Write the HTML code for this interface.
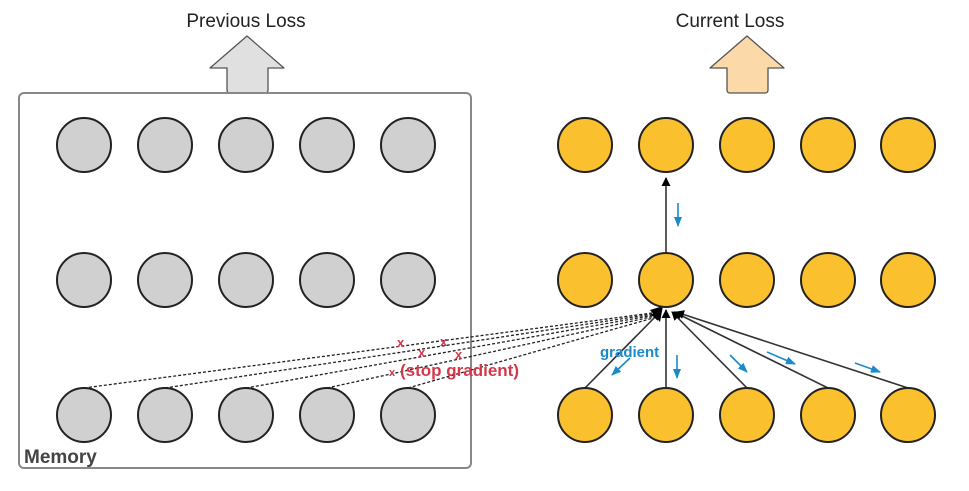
<!DOCTYPE html>
<html><head><style>body{margin:0;background:#fff;}svg{display:block}</style></head><body>
<svg width="969" height="491" viewBox="0 0 969 491" xmlns="http://www.w3.org/2000/svg" font-family="Liberation Sans, sans-serif">
<defs>
<marker id="ah" markerWidth="9" markerHeight="9" refX="8" refY="4.5" orient="auto" markerUnits="userSpaceOnUse"><path d="M0,0 L9,4.5 L0,9 z" fill="#000"/></marker>
<marker id="ab" markerWidth="10" markerHeight="8" refX="9" refY="4" orient="auto" markerUnits="userSpaceOnUse"><path d="M0,0 L10,4 L0,8 z" fill="#1a8bc8"/></marker>
</defs>
<text x="246" y="27" font-size="19" text-anchor="middle" fill="#222">Previous Loss</text>
<text x="730" y="27" font-size="19" text-anchor="middle" fill="#222">Current Loss</text>
<path d="M247,36 L284,68 L268,68 L268,90 Q268,93 265,93 L230,93 Q227,93 227,90 L227,68 L210,68 Z" fill="#e0e0e0" stroke="#555" stroke-width="1.3" stroke-linejoin="round"/>
<path d="M747,36 L784,68 L768,68 L768,90 Q768,93 765,93 L730,93 Q727,93 727,90 L727,68 L710,68 Z" fill="#fbd9a8" stroke="#555" stroke-width="1.3" stroke-linejoin="round"/>
<rect x="19" y="93" width="452" height="375" rx="5" fill="none" stroke="#888" stroke-width="2"/>
<text x="24" y="463" font-size="19" font-weight="bold" fill="#444">Memory</text>
<g stroke="#222" stroke-width="1.3" stroke-dasharray="3,2" fill="none">
<line x1="84" y1="388" x2="660" y2="312"/><line x1="165" y1="388" x2="660" y2="313"/><line x1="246" y1="388" x2="660" y2="314"/><line x1="327" y1="388" x2="660" y2="315"/><line x1="408" y1="388" x2="660" y2="316"/>
</g>
<path d="M650,310 L663,306 L660,322 Z" fill="#000"/>
<g fill="#d0d0d0" stroke="#222" stroke-width="2">
<circle cx="84" cy="145" r="27"/><circle cx="165" cy="145" r="27"/><circle cx="246" cy="145" r="27"/><circle cx="327" cy="145" r="27"/><circle cx="408" cy="145" r="27"/>
<circle cx="84" cy="280" r="27"/><circle cx="165" cy="280" r="27"/><circle cx="246" cy="280" r="27"/><circle cx="327" cy="280" r="27"/><circle cx="408" cy="280" r="27"/>
<circle cx="84" cy="415" r="27"/><circle cx="165" cy="415" r="27"/><circle cx="246" cy="415" r="27"/><circle cx="327" cy="415" r="27"/><circle cx="408" cy="415" r="27"/>
</g>
<g stroke="#333" stroke-width="1.6" marker-end="url(#ah)">
<line x1="666" y1="253" x2="666" y2="178"/>
<line x1="585" y1="388" x2="660" y2="312"/>
<line x1="666" y1="388" x2="666" y2="310"/>
<line x1="747" y1="388" x2="672" y2="312"/>
<line x1="828" y1="388" x2="674" y2="312"/>
<line x1="908" y1="388" x2="676" y2="312"/>
</g>
<g fill="#fbc02d" stroke="#222" stroke-width="2">
<circle cx="585" cy="145" r="27"/><circle cx="666" cy="145" r="27"/><circle cx="747" cy="145" r="27"/><circle cx="828" cy="145" r="27"/><circle cx="908" cy="145" r="27"/>
<circle cx="585" cy="280" r="27"/><circle cx="666" cy="280" r="27"/><circle cx="747" cy="280" r="27"/><circle cx="828" cy="280" r="27"/><circle cx="908" cy="280" r="27"/>
<circle cx="585" cy="415" r="27"/><circle cx="666" cy="415" r="27"/><circle cx="747" cy="415" r="27"/><circle cx="828" cy="415" r="27"/><circle cx="908" cy="415" r="27"/>
</g>
<g stroke="#1a8bc8" stroke-width="1.6" marker-end="url(#ab)">
<line x1="678" y1="203" x2="678" y2="226"/>
<line x1="630" y1="358" x2="612" y2="375"/>
<line x1="677" y1="355" x2="677" y2="378"/>
<line x1="730" y1="355" x2="747" y2="372"/>
<line x1="767" y1="352" x2="795" y2="364"/>
<line x1="855" y1="363" x2="880" y2="372"/>
</g>
<text x="600" y="357" font-size="15" font-weight="bold" fill="#1a8bc8">gradient</text>
<g font-size="13" fill="#d23a4a" font-weight="bold">
<text x="397" y="347">x</text><text x="440" y="346">x</text><text x="418" y="357">x</text><text x="455" y="359">x</text>
<text x="389" y="376" font-size="11">x</text>
<text x="400" y="376" font-size="17">(stop gradient)</text>
</g>
</svg>
</body></html>
